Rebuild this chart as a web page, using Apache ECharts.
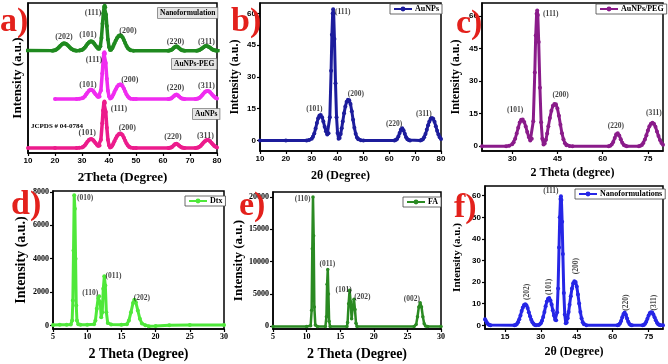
<!DOCTYPE html>
<html>
<head>
<meta charset="utf-8">
<script src="https://cdn.jsdelivr.net/npm/echarts@6/dist/echarts.min.js"></script>
<style>
html, body { margin: 0; padding: 0; background: #fff; }
#chart { width: 668px; height: 364px; }
</style>
</head>
<body>
<div id="chart"></div>
<script>
// XRD patterns: [2theta, intensity]
const auNps = [[10,0],[20,0],[28,0],[29,0.2],[30,0.8],[30.5,1.7],[31,3.3],[31.5,5.6],[32,8.2],[32.5,10.5],[33,11.8],[33.5,12],[34,11],[34.5,9],[35,6.5],[35.5,4.3],[36,2.8],[36.5,3.4],[37,11],[37.5,33],[37.8,50],[38.1,60],[38.3,62],[38.5,60],[38.8,48],[39.2,27],[39.6,11],[40,3.5],[40.4,0.8],[40.8,1.2],[41.2,3],[41.6,5.8],[42,9],[42.5,12.8],[43,16],[43.5,18.3],[44,19.2],[44.5,19],[45,17.2],[45.5,13.8],[46,9.8],[46.5,6],[47,3.2],[47.5,1.4],[48,0.5],[49,0.1],[50,0],[62,0],[62.5,0.2],[63,0.7],[63.5,1.8],[64,3.5],[64.5,5.2],[65,5.8],[65.5,4.8],[66,3.1],[66.5,1.5],[67,0.6],[67.5,0.2],[68,0],[72,0],[72.5,0.2],[73,0.6],[73.5,1.5],[74,3],[74.5,5],[75,7.2],[75.5,9],[76,10.2],[76.5,10.6],[77,10.2],[77.5,8.8],[78,6.7],[78.5,4.6],[79,2.8],[79.5,1.5],[80,0.7]];

const auNpsPeg = [[20,0],[28,0],[29,0.2],[30,0.9],[30.5,1.8],[31,3.5],[31.5,5.9],[32,8.5],[32.5,10.9],[33,12.2],[33.5,12.3],[34,11.2],[34.5,9.1],[35,6.5],[35.5,4.2],[36,2.6],[36.5,3.4],[37,11.5],[37.5,34],[37.8,51],[38.1,61],[38.3,62.5],[38.5,60.5],[38.8,48],[39.2,27],[39.6,11],[40,3.4],[40.4,0.8],[40.8,1.2],[41.2,3],[41.6,5.9],[42,9.2],[42.5,13],[43,16.3],[43.5,18.6],[44,19.5],[44.5,19.3],[45,17.4],[45.5,14],[46,9.9],[46.5,6],[47,3.2],[47.5,1.4],[48,0.5],[49,0.1],[50,0],[62,0],[62.5,0.2],[63,0.8],[63.5,2],[64,3.8],[64.5,5.5],[65,6],[65.5,5],[66,3.2],[66.5,1.6],[67,0.6],[67.5,0.2],[68,0],[72,0],[72.5,0.2],[73,0.6],[73.5,1.5],[74,3.1],[74.5,5.1],[75,7.3],[75.5,9.2],[76,10.4],[76.5,10.8],[77,10.4],[77.5,9],[78,6.8],[78.5,4.7],[79,2.9],[79.5,1.5],[80,0.7]];

const nanoForm = [[6.7,2.8],[7,2.2],[7.5,1.2],[8,0.5],[8.5,0.2],[9,0],[19,0],[19.5,0.2],[20,0.6],[20.5,1.4],[21,2.8],[21.5,4.6],[22,6.6],[22.5,8.3],[23,9.4],[23.5,9.8],[24,9.3],[24.5,8],[25,6.1],[25.5,4.2],[26,2.6],[26.5,1.4],[27,0.6],[27.5,0.2],[28,0],[29,0.1],[29.5,0.4],[30,1],[30.5,2.1],[31,3.9],[31.5,6.2],[32,8.8],[32.5,11],[33,12.3],[33.5,12.6],[34,11.6],[34.5,9.6],[35,7],[35.5,4.5],[36,2.6],[36.4,2.4],[36.8,6],[37.2,17],[37.6,36],[37.9,50],[38.2,58.5],[38.4,59.8],[38.6,58],[38.9,48],[39.2,33],[39.6,15],[40,5],[40.4,1],[40.8,1.3],[41.2,3.3],[41.6,6.2],[42,9.5],[42.5,13.5],[43,17],[43.5,19.5],[44,20.4],[44.5,20.1],[45,18],[45.5,14.3],[46,10.1],[46.5,6.2],[47,3.3],[47.5,1.4],[48,0.5],[49,0],[62,0],[62.5,0.2],[63,0.8],[63.5,2],[64,3.7],[64.5,5.3],[65,5.9],[65.5,4.9],[66,3.2],[66.5,1.6],[67,0.6],[67.5,0.2],[68,0],[72.5,0],[73,0.2],[73.5,0.7],[74,1.7],[74.5,3.1],[75,4.6],[75.5,5.7],[76,6.1],[76.5,5.9],[77,5],[77.5,3.7],[78,2.3],[78.5,1.2],[79,0.5],[79.5,0.2],[80,0],[81,0]];

const dtx = [[5,30],[6,40],[7,40],[7.6,60],[7.8,300],[7.9,1500],[8.0,4500],[8.1,7800],[8.2,7000],[8.3,4000],[8.4,1200],[8.5,300],[8.7,80],[9,50],[10,50],[11,80],[11.2,300],[11.4,1000],[11.6,1650],[11.75,1750],[11.9,1400],[12.05,500],[12.2,800],[12.35,2200],[12.5,2950],[12.65,2400],[12.8,800],[13,150],[13.5,60],[15,50],[15.8,80],[16.1,300],[16.4,800],[16.7,1350],[16.9,1550],[17.1,1400],[17.4,900],[17.7,400],[18,120],[18.5,20],[19,-40],[20,-30],[22,20],[25,30],[30,30]];

const fa = [[5,0],[10,0],[10.6,100],[10.75,2500],[10.85,12000],[10.95,20000],[11.05,14000],[11.15,3000],[11.3,200],[11.6,0],[12.8,0],[12.95,1500],[13.05,6500],[13.15,8800],[13.25,5000],[13.35,800],[13.5,0],[16,0],[16.1,600],[16.25,3500],[16.4,5600],[16.55,3800],[16.7,1200],[16.85,2800],[17.05,4200],[17.2,2600],[17.35,500],[17.5,0],[26,0],[26.3,300],[26.5,1500],[26.7,3000],[26.9,3650],[27.1,3000],[27.3,1500],[27.5,400],[27.7,50],[28,0],[30,0]];

// vertical offsets of the stacked patterns in panel a (AuNPs, AuNPs-PEG, Nanoformulation)
const offsetsA = [6.7, 72, 136.5];

// peak labels: [2theta, intensity, hkl]
const labelsA = [[23.3,154.4,'(202)'],[32.2,157.4,'(101)'],[34.1,187,'(111)'],[47,163,'(200)'],[64.6,148.5,'(220)'],[76.1,148.5,'(311)'],
  [34.4,124,'(111)'],[32.2,91,'(101)'],[47.7,97.5,'(200)'],[64.6,86.5,'(220)'],[76.1,89.5,'(311)'],
  [43.7,58.5,'(111)'],[31.9,27.4,'(101)'],[46.8,33.3,'(200)'],[63.7,20.8,'(220)'],[75.7,23,'(311)']];
const labelsB = [[42,60.5,'(111)'],[31,14.7,'(101)'],[47.1,21.7,'(200)'],[61.9,7.9,'(220)'],[73.4,12.6,'(311)']];
const labelsC = [[42.8,60.9,'(111)'],[31,16.8,'(101)'],[46.1,23.4,'(200)'],[64.4,9.5,'(220)'],[77,15.3,'(311)']];
const labelsD = [[9.7,7640,'(010)'],[10.45,1930,'(110)'],[13.85,2970,'(011)'],[18,1670,'(202)']];
const labelsE = [[9.4,19740,'(110)'],[13.1,9620,'(011)'],[15.5,5610,'(101)'],[18.3,4580,'(202)'],[25.65,4220,'(002)']];
const labelsF = [[34.2,62.1,'(111)']];
const labelsFv = [[24.1,15.5,'(202)'],[33.5,17.8,'(101)'],[44.7,27.4,'(200)'],[65.5,10.5,'(220)'],[77.3,10.5,'(311)']];

// tick values
const ticks10to80 = [10, 20, 30, 40, 50, 60, 70, 80];
const ticksC = [30, 45, 60, 75];
const ticks5to30 = [5, 10, 15, 20, 25, 30];
const ticksF = [15, 30, 45, 60, 75];
const yTicks15 = [0, 15, 30, 45, 60];
const yTicksD = [0, 2000, 4000, 6000, 8000];
const yTicksE = [0, 5000, 10000, 15000, 20000];
const yTicksF = [0, 10, 20, 30, 40, 50, 60];

const serif = 'Liberation Serif';
const sans = 'Liberation Sans';

const chart = echarts.init(document.getElementById('chart'));

const grid = [
  { left: 28, top: 3, width: 189, height: 150 },
  { left: 260, top: 3, width: 181, height: 148 },
  { left: 482, top: 3, width: 181, height: 148 },
  { left: 53, top: 191, width: 171, height: 138 },
  { left: 273, top: 192, width: 168, height: 137 },
  { left: 485, top: 186, width: 178, height: 143 }
].map(g => Object.assign({ show: true, borderColor: '#000', borderWidth: 1.5 }, g));

function xAx(gi, min, max, ticks, font, name, size, gap, pad) {
  return {
    type: 'value', gridIndex: gi, min: min, max: max,
    axisLine: { onZero: false, lineStyle: { color: '#000', width: 1.5 } },
    axisTick: { customValues: ticks, length: 3, lineStyle: { color: '#000', width: 1.2 } },
    axisLabel: { customValues: ticks, formatter: v => String(v), fontFamily: font, fontWeight: 'bold', fontSize: 8, color: '#000', margin: 4 },
    splitLine: { show: false },
    name: name, nameLocation: 'middle', nameGap: gap,
    nameTextStyle: { fontFamily: serif, fontWeight: 'bold', fontSize: size, color: '#000', padding: pad || 0 }
  };
}

function yAx(gi, min, max, ticks, font, size, gap) {
  return {
    type: 'value', gridIndex: gi, min: min, max: max,
    axisLine: { onZero: false, lineStyle: { color: '#000', width: 1.5 } },
    axisTick: ticks ? { customValues: ticks, length: 3, lineStyle: { color: '#000', width: 1.2 } } : { show: false },
    axisLabel: ticks ? { customValues: ticks, formatter: v => String(v), fontFamily: font, fontWeight: 'bold', fontSize: 8, color: '#000', margin: 4 } : { show: false },
    splitLine: { show: false },
    name: 'Intensity (a.u.)', nameLocation: 'middle', nameGap: gap,
    nameTextStyle: { fontFamily: serif, fontWeight: 'bold', fontSize: size, color: '#000' }
  };
}

function curve(name, data, gi, color, width, size) {
  return {
    type: 'line', name: name, data: data, xAxisIndex: gi, yAxisIndex: gi,
    symbol: 'circle', symbolSize: size, showSymbol: true,
    lineStyle: { color: color, width: width },
    itemStyle: { color: color },
    z: 3
  };
}

function peakLabels(list, gi, size, rotate) {
  return {
    type: 'scatter', xAxisIndex: gi, yAxisIndex: gi, silent: true, symbolSize: 1,
    itemStyle: { color: 'transparent' },
    data: list.map(l => ({ name: l[2], value: [l[0], l[1]] })),
    label: {
      show: true, position: 'inside', formatter: '{b}', rotate: rotate || 0,
      fontFamily: serif, fontWeight: 'bold', fontSize: size, color: '#111'
    },
    z: 5
  };
}

const legendBase = {
  orient: 'horizontal', itemWidth: 18, itemHeight: 6, itemGap: 0,
  padding: [1, 3], borderColor: '#444', borderWidth: 0.8, backgroundColor: '#fff',
  textStyle: { fontFamily: serif, fontWeight: 'bold', fontSize: 8, color: '#000', padding: [0, 0, 0, -2] }
};

function panelLetter(text, x, y) {
  return {
    type: 'text', x: x, y: y, z: 10,
    style: { text: text, font: 'bold 34px "Liberation Serif"', fill: '#e3211c', verticalAlign: 'middle' }
  };
}

function tagA(text, x, y) {
  return {
    type: 'text', x: x, y: y, z: 10,
    style: {
      text: text, font: 'bold 7.5px "Liberation Serif"', fill: '#000',
      backgroundColor: '#e6e6e6', borderColor: '#777', borderWidth: 0.8, padding: [1, 2]
    }
  };
}

chart.setOption({
  animation: false,
  grid: grid,
  xAxis: [
    xAx(0, 10, 80, ticks10to80, sans, '2Theta (Degree)', 13, 18),
    xAx(1, 10, 80, ticks10to80, sans, '2θ (Degree)', 12, 19, [0, 20, 0, 0]),
    xAx(2, 20, 80, ticksC, sans, '2 Theta (degree)', 12, 16),
    xAx(3, 5, 30, ticks5to30, serif, '2 Theta (Degree)', 14, 18),
    xAx(4, 5, 30, ticks5to30, serif, '2 Theta (Degree)', 14, 18),
    xAx(5, 6.7, 81, ticksF, sans, '2θ (Degree)', 12, 17)
  ],
  yAxis: [
    yAx(0, 0, 200, null, sans, 13, 4),
    yAx(1, -5, 65, yTicks15, sans, 12, 19),
    yAx(2, -2.2, 66, yTicks15, sans, 12, 20),
    yAx(3, -210, 8060, yTicksD, serif, 14, 25),
    yAx(4, -400, 20770, yTicksE, serif, 13, 28),
    yAx(5, -1.7, 64.5, yTicksF, sans, 11, 22)
  ],
  legend: [
    Object.assign({ data: ['AuNPs'], left: 390, top: 4 }, legendBase),
    Object.assign({ data: ['AuNPs/PEG'], left: 596, top: 4 }, legendBase),
    Object.assign({ data: ['Dtx'], left: 185, top: 196 }, legendBase),
    Object.assign({ data: ['FA'], left: 403, top: 197 }, legendBase),
    Object.assign({ data: ['Nanoformulations'], left: 575, top: 189 }, legendBase)
  ],
  series: [
    curve('a-AuNPs', auNps.map(p => [p[0], p[1] + offsetsA[0]]), 0, '#ec1c8c', 3.5, 4),
    curve('a-PEG', auNpsPeg.map(p => [p[0], p[1] + offsetsA[1]]), 0, '#f02cf0', 3.5, 4),
    curve('a-Nano', nanoForm.map(p => [p[0], p[1] + offsetsA[2]]), 0, '#1f8a1f', 3.5, 4),
    curve('AuNPs', auNps, 1, '#1c1c9c', 3, 4),
    curve('AuNPs/PEG', auNpsPeg, 2, '#8a1b8a', 3, 4),
    curve('Dtx', dtx, 3, '#4fe83a', 3, 4),
    curve('FA', fa, 4, '#2a8a22', 2.5, 3.5),
    curve('Nanoformulations', nanoForm, 5, '#2626e6', 3, 4),
    peakLabels(labelsA, 0, 8),
    peakLabels(labelsB, 1, 7.5),
    peakLabels(labelsC, 2, 7.5),
    peakLabels(labelsD, 3, 7.5),
    peakLabels(labelsE, 4, 7.5),
    peakLabels(labelsF, 5, 7.5),
    peakLabels(labelsFv, 5, 7.5, 90)
  ],
  graphic: [
    panelLetter('a)', 0, 22),
    panelLetter('b)', 231, 22),
    panelLetter('c)', 456, 24),
    panelLetter('d)', 11, 205),
    panelLetter('e)', 239, 206),
    panelLetter('f)', 454, 208),
    tagA('Nanoformulation', 158, 8),
    tagA('AuNPs-PEG', 172, 59),
    tagA('AuNPs', 193, 109),
    {
      type: 'text', x: 31, y: 123, z: 10,
      style: { text: 'JCPDS # 04-0784', font: 'bold 7px "Liberation Serif"', fill: '#000' }
    }
  ]
});
</script>
</body>
</html>
